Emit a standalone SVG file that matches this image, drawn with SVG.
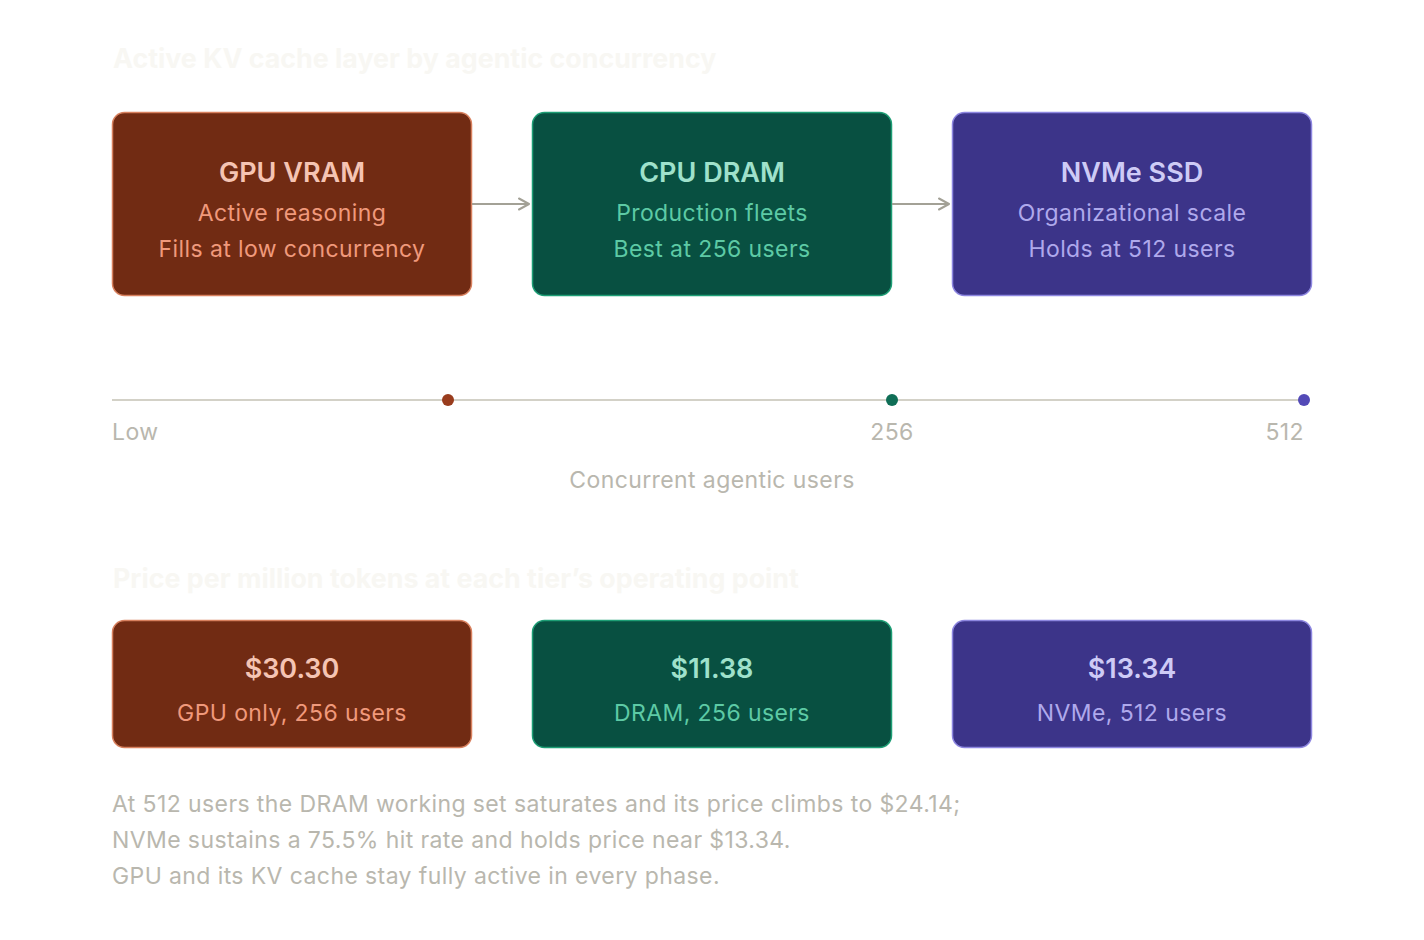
<svg xmlns="http://www.w3.org/2000/svg" width="1424" height="940" viewBox="0 0 1424 940">
<defs>
<marker id="arr" viewBox="0 0 14 14" refX="12" refY="7" markerWidth="14" markerHeight="14" markerUnits="userSpaceOnUse" orient="auto">
<path d="M2 1.5 L12 7 L2 12.5" fill="none" stroke="#A3A196" stroke-width="2" stroke-linecap="round" stroke-linejoin="round"/>
</marker>
<style>
text{font-family:Inter,"Liberation Sans",sans-serif}
.ttl{font-size:26.8px;font-weight:700;fill:#F8F7F3}
.h{font-size:27px;font-weight:600;text-anchor:middle}
.p{font-size:27px;font-weight:600;text-anchor:middle}
.s{font-size:23px;letter-spacing:0.4px;text-anchor:middle}
.lbl{font-size:23px;letter-spacing:0.4px;fill:#B9B7AE}
.foot{font-size:23px;letter-spacing:0.4px;fill:#B9B7AE}
.r-gpu{fill:#712B13;stroke:#D8805E;stroke-width:1.5}
.r-cpu{fill:#085041;stroke:#1D9E75;stroke-width:1.5}
.r-nvm{fill:#3C3489;stroke:#8D86E0;stroke-width:1.5}
.t-gpu{fill:#F5C4B3}.s-gpu{fill:#F0997B}
.t-cpu{fill:#9FE1CB}.s-cpu{fill:#5DCAA5}
.t-nvm{fill:#CECBF6}.s-nvm{fill:#AFA9EC}
.conn{stroke:#A3A196;stroke-width:2;fill:none}
</style>
</defs>
<rect width="1424" height="940" fill="#FFFFFF"/>
<text class="ttl" x="113" y="68">Active KV cache layer by agentic concurrency</text>

<g id="gpu-vram">
<rect class="r-gpu" x="112.5" y="112.5" width="359" height="183" rx="12"/>
<text class="h t-gpu" x="292" y="182">GPU VRAM</text>
<text class="s s-gpu" x="292" y="221">Active reasoning</text>
<text class="s s-gpu" x="292" y="257">Fills at low concurrency</text>
</g>
<g id="cpu-dram">
<rect class="r-cpu" x="532.5" y="112.5" width="359" height="183" rx="12"/>
<text class="h t-cpu" x="712" y="182">CPU DRAM</text>
<text class="s s-cpu" x="712" y="221">Production fleets</text>
<text class="s s-cpu" x="712" y="257">Best at 256 users</text>
</g>
<g id="nvme-ssd">
<rect class="r-nvm" x="952.5" y="112.5" width="359" height="183" rx="12"/>
<text class="h t-nvm" x="1132" y="182">NVMe SSD</text>
<text class="s s-nvm" x="1132" y="221">Organizational scale</text>
<text class="s s-nvm" x="1132" y="257">Holds at 512 users</text>
</g>

<g id="connectors">
<line class="conn" x1="472" y1="204" x2="529" y2="204" marker-end="url(#arr)"/>
<line class="conn" x1="892" y1="204" x2="949" y2="204" marker-end="url(#arr)"/>
</g>

<g id="timeline">
<line x1="112" y1="400" x2="1304" y2="400" stroke="#D3D1C7" stroke-width="2"/>
<circle cx="448" cy="400" r="6" fill="#993C1D"/>
<circle cx="892" cy="400" r="6" fill="#0F6E56"/>
<circle cx="1304" cy="400" r="6" fill="#534AB7"/>
<text class="lbl" x="112" y="440">Low</text>
<text class="lbl" x="892" y="440" text-anchor="middle">256</text>
<text class="lbl" x="1304" y="440" text-anchor="end">512</text>
<text class="lbl" x="712" y="488" text-anchor="middle">Concurrent agentic users</text>
</g>

<text class="ttl" x="113" y="588">Price per million tokens at each tier’s operating point</text>

<g id="price-gpu">
<rect class="r-gpu" x="112.5" y="620.5" width="359" height="127" rx="12"/>
<text class="p t-gpu" x="292" y="678">$30.30</text>
<text class="s s-gpu" x="292" y="721">GPU only, 256 users</text>
</g>
<g id="price-dram">
<rect class="r-cpu" x="532.5" y="620.5" width="359" height="127" rx="12"/>
<text class="p t-cpu" x="712" y="678">$11.38</text>
<text class="s s-cpu" x="712" y="721">DRAM, 256 users</text>
</g>
<g id="price-nvme">
<rect class="r-nvm" x="952.5" y="620.5" width="359" height="127" rx="12"/>
<text class="p t-nvm" x="1132" y="678">$13.34</text>
<text class="s s-nvm" x="1132" y="721">NVMe, 512 users</text>
</g>

<g id="footnote">
<text class="foot" x="112" y="812">At 512 users the DRAM working set saturates and its price climbs to $24.14;</text>
<text class="foot" x="112" y="848">NVMe sustains a 75.5% hit rate and holds price near $13.34.</text>
<text class="foot" x="112" y="884">GPU and its KV cache stay fully active in every phase.</text>
</g>
</svg>
